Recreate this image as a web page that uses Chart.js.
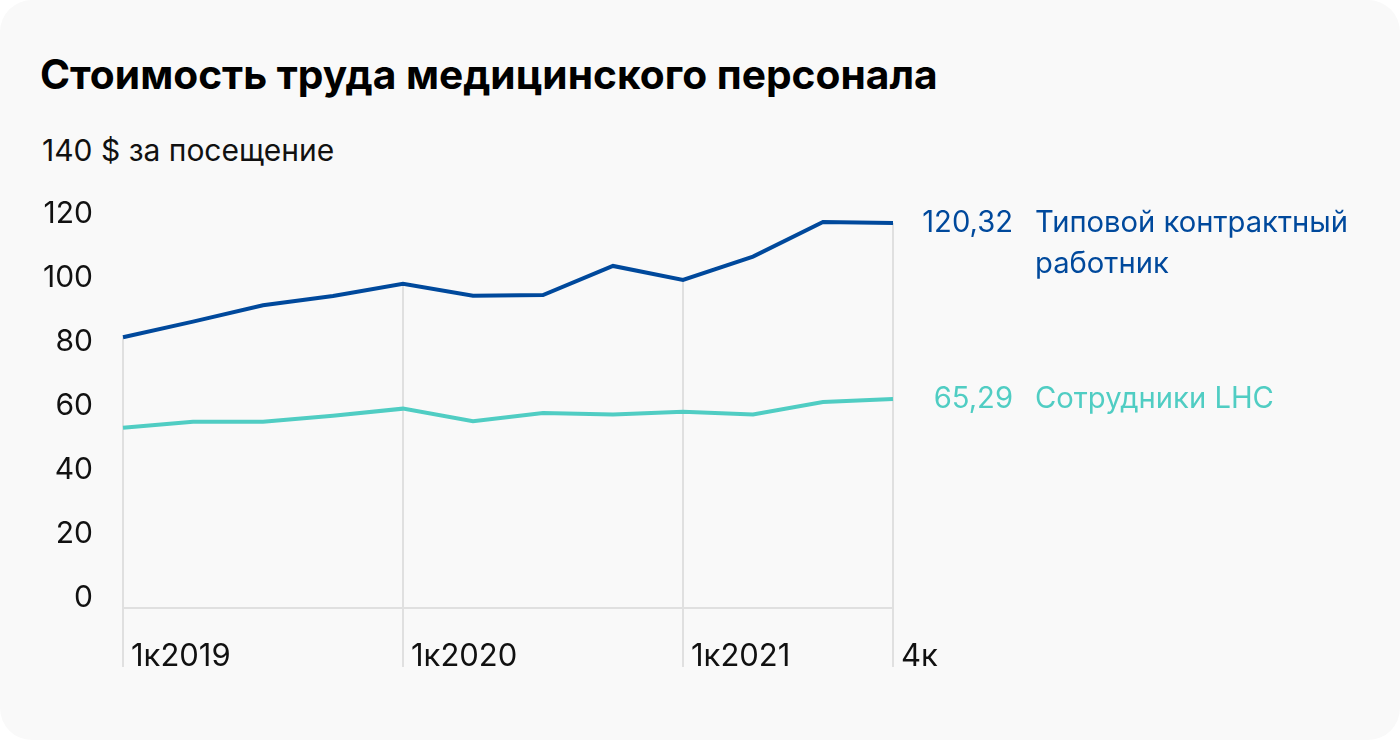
<!DOCTYPE html>
<html lang="ru">
  <head>
    <meta charset="UTF-8" />
    <title>Стоимость труда медицинского персонала</title>
    <script src="https://cdn.jsdelivr.net/npm/chart.js@4"></script>
    <style>
      body { margin: 0; background: #fff; }
      .card {
        position: relative;
        width: 1400px;
        height: 740px;
        background: #f9f9f9;
        border-radius: 32px;
        overflow: hidden;
        font-family: Inter, "Noto Sans", sans-serif;
      }
      .card h1 {
        position: absolute;
        left: 40px;
        top: 54px;
        margin: 0;
        font: 700 40.7px/41px Inter, sans-serif;
        color: #000;
        white-space: nowrap;
      }
      .unit {
        position: absolute;
        left: 42px;
        top: 135px;
        font: 400 30px/30px Inter, sans-serif;
        color: #111;
        white-space: nowrap;
      }
      #chart { position: absolute; left: 0; top: 0; }
    </style>
  </head>
  <body>
    <div class="card">
      <h1>Стоимость труда медицинского персонала</h1>
      <div class="unit">140 $ за посещение</div>
      <canvas id="chart" width="1400" height="740"></canvas>
    </div>
  </body>
  <script>
    const quarters = [
      "1к2019", "2к2019", "3к2019", "4к2019",
      "1к2020", "2к2020", "3к2020", "4к2020",
      "1к2021", "2к2021", "3к2021", "4к2021",
    ];
    const xTickText = ["1к2019", "", "", "", "1к2020", "", "", "", "1к2021", "", "", "4к"];
    const gridIdx = [0, 4, 8, 11]; // quarters with a vertical rule

    const contractCost = [84.6, 89.5, 94.6, 97.5, 101.3, 97.6, 97.8, 106.9, 102.5, 109.8, 120.6, 120.32];
    const lhcCost = [56.3, 58.2, 58.2, 60.1, 62.3, 58.4, 60.9, 60.5, 61.3, 60.5, 64.4, 65.29];

    const seriesNames = [["Типовой контрактный", "работник"], ["Сотрудники LHC"]];
    const endValues = ["120,32", "65,29"];

    const BLUE = "#00499c";
    const TEAL = "#50cdc3";
    const GRID = "#e0e0e0";
    const FONT = {family: "Inter", size: 30};

    // vertical rules from the upper line down below the axis
    const rulesPlugin = {
      id: "rules",
      beforeDatasetsDraw(chart) {
        const {ctx, chartArea, scales} = chart;
        const top = chart.getDatasetMeta(0).data;
        ctx.save();
        ctx.strokeStyle = GRID;
        ctx.lineWidth = 2;
        gridIdx.forEach((i) => {
          const x = scales.x.getPixelForValue(i);
          ctx.beginPath();
          ctx.moveTo(x, top[i].y);
          ctx.lineTo(x, chartArea.bottom + 59);
          ctx.stroke();
        });
        ctx.restore();
      },
      // end labels next to the last points
      afterDatasetsDraw(chart) {
        const {ctx, chartArea} = chart;
        ctx.save();
        ctx.font = "400 29.2px Inter";
        ctx.textBaseline = "middle";
        chart.data.datasets.forEach((ds, d) => {
          const pts = chart.getDatasetMeta(d).data;
          const y = pts[pts.length - 1].y;
          ctx.fillStyle = ds.borderColor;
          ctx.textAlign = "right";
          ctx.fillText(endValues[d], chartArea.right + 120, y);
          ctx.textAlign = "left";
          seriesNames[d].forEach((line, k) => {
            ctx.fillText(line, chartArea.right + 142, y + k * 41);
          });
        });
        ctx.restore();
      },
    };

    const ctx = document.getElementById("chart").getContext("2d");
    const costChart = new Chart(ctx, {
      type: "line",
      data: {
        labels: quarters,
        datasets: [
          {label: "Типовой контрактный работник", data: contractCost, borderColor: BLUE, borderWidth: 4},
          {label: "Сотрудники LHC", data: lhcCost, borderColor: TEAL, borderWidth: 4},
        ],
      },
      options: {
        responsive: false,
        animation: false,
        elements: {point: {radius: 0}, line: {tension: 0, borderCapStyle: "butt"}},
        layout: {padding: {left: 0, right: 507, top: 160, bottom: 0}},
        plugins: {legend: {display: false}, tooltip: {enabled: false}},
        scales: {
          x: {
            grid: {display: false, drawTicks: false},
            border: {display: false},
            ticks: {
              autoSkip: false,
              maxRotation: 0,
              align: "start",
              labelOffset: 8,
              padding: 30,
              color: "#111",
              font: {family: "Inter", size: 31},
              callback: (v, i) => xTickText[i],
            },
            afterFit(scale) { scale.height = 132; },
          },
          y: {
            min: 0,
            max: 140,
            grid: {
              drawTicks: false,
              lineWidth: 2,
              color: (c) => (c.tick && c.tick.value === 0 ? GRID : "transparent"),
            },
            border: {display: false},
            ticks: {
              stepSize: 20,
              padding: 30,
              labelOffset: -10.5,
              color: "#111",
              font: FONT,
              callback: (v) => (v === 140 ? "" : v),
            },
            afterFit(scale) { scale.width = 123; },
          },
        },
      },
      plugins: [rulesPlugin],
    });
  </script>
</html>
